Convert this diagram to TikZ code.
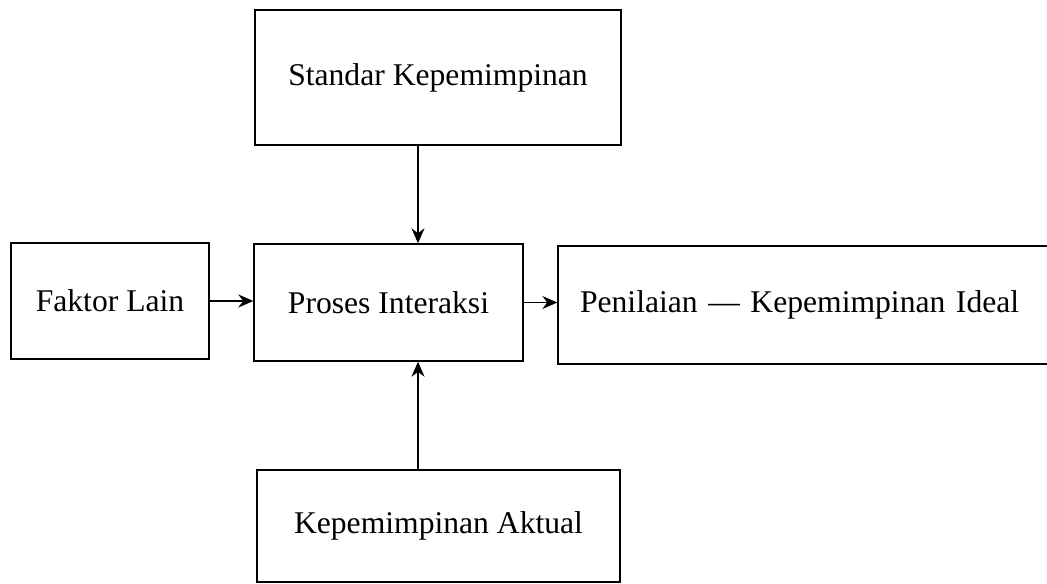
\documentclass[tikz,border=0pt]{standalone}
\usepackage{fontspec}
\setmainfont{Liberation Serif}
\usepackage{tikz}
\usetikzlibrary{arrows.meta,positioning,calc}

\begin{document}
\begin{tikzpicture}[x=0.02cm, y=-0.02cm, >=Stealth,
    % ---- styles ----
    B/.style={draw=black, line width=0.8pt, inner sep=4pt,
              font=\fontsize{18}{22}\selectfont, text=black},
    A/.style={-{Stealth[length=0.3cm, width=0.26cm]}, line width=0.8pt},
]
\clip (0,0) rectangle (1047,584);

% ===== Boxes =====
\node[B, minimum width=7.32cm, minimum height=2.7cm]  (std) at (438,77.5)  {Standar Kepemimpinan};
\node[B, minimum width=3.96cm, minimum height=2.32cm] (fak) at (110,301)   {Faktor Lain};
\node[B, minimum width=5.38cm, minimum height=2.34cm] (pro) at (388.5,302.5) {Proses Interaksi};
\node[B, minimum height=2.36cm, inner xsep=0.44cm, text width=9.36cm, align=left]
      (pen) at (814,305) {Penilaian --- Kepemimpinan Ideal};
\node[B, minimum width=7.26cm, minimum height=2.24cm] (akt) at (438.5,526) {Kepemimpinan Aktual};

% vertical connectors run at this x
\coordinate (ax) at (418,0);

% ===== Connectors =====
\draw[A] (std.south -| ax) -- (pro.north -| ax);
\draw[A] (akt.north -| ax) -- (pro.south -| ax);
\draw[A] (fak.east) -- (fak.east -| pro.west);
\draw[A] (pro.east) -- (pro.east -| pen.west);

\end{tikzpicture}
\end{document}
